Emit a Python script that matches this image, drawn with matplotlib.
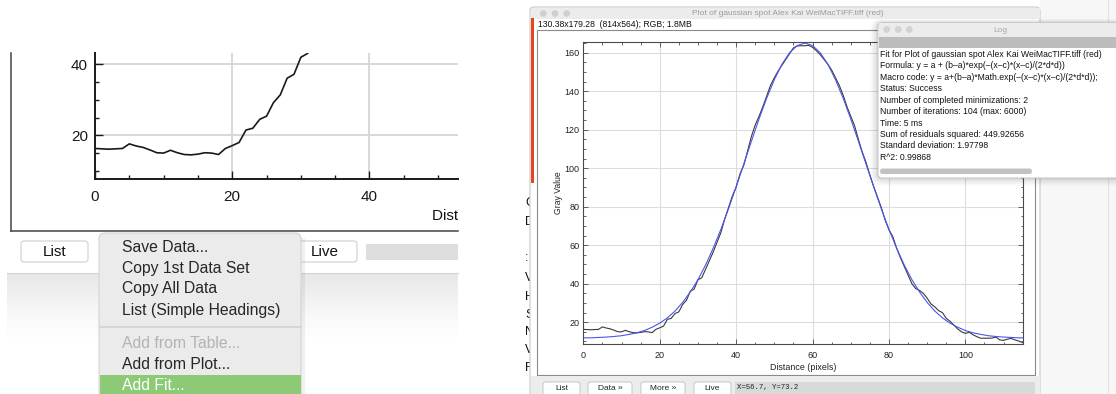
import numpy as np
import matplotlib.pyplot as plt
from matplotlib.patches import Rectangle, FancyBboxPatch, Circle
from matplotlib.ticker import MultipleLocator

W, H = 1116, 394
plt.rcParams['font.family'] = ['Liberation Sans', 'DejaVu Sans']

# line profile (gray value per pixel along the line)
distance = np.arange(116)
gray_value = [16.3, 16.2, 16.1, 16.2, 16.3, 17.6, 17.0, 16.6, 15.9, 15.1,
              15.0, 15.8, 15.1, 14.6, 14.5, 14.7, 15.1, 15.0, 14.6, 16.3,
              17.1, 18.0, 21.5, 22.0, 24.5, 25.4, 29.2, 31.4, 36.1, 37.2,
              42.0, 43.1, 47.5, 52.0, 56.5, 61.5, 66.5, 73.5, 79.5, 85.5,
              90.2, 97.0, 101.5, 109.0, 116.5, 122.5, 127.0, 132.0, 137.5, 143.0,
              147.0, 150.5, 153.5, 156.5, 159.5, 162.5, 163.5, 163.6, 163.6, 163.8,
              162.8, 161.0, 159.0, 156.5, 154.0, 151.0, 147.0, 143.0, 138.0, 132.0,
              127.0, 122.0, 115.0, 108.5, 103.0, 96.5, 90.5, 85.0, 79.5, 73.0,
              68.0, 64.5, 58.5, 53.5, 49.0, 44.5, 40.0, 37.5, 36.5, 35.0,
              32.5, 29.5, 28.0, 26.0, 25.0, 22.0, 20.5, 18.5, 16.5, 15.0,
              14.2, 14.8, 13.5, 12.5, 11.7, 11.7, 11.7, 11.8, 12.3, 10.8,
              10.6, 11.2, 11.6, 10.8, 10.2, 9.4]

# gaussian fit curve as drawn (every 2 px)
fit_distance = list(range(0, 116, 2)) + [115]
fit_value = [11.9, 11.9, 12.1, 12.3, 12.6, 13.0, 13.7, 14.5, 15.7, 17.4,
             19.5, 22.3, 25.8, 30.3, 35.7, 42.1, 49.7, 58.5, 68.2, 78.9,
             90.3, 102.1, 114.0, 125.6, 136.4, 146.0, 154.0, 160.0, 163.7, 165.0,
             163.7, 160.0, 154.0, 146.0, 136.4, 125.6, 114.0, 102.1, 90.3, 78.9,
             68.2, 58.5, 49.7, 42.1, 35.7, 30.3, 25.8, 22.3, 19.5, 17.4,
             15.7, 14.5, 13.7, 13.0, 12.6, 12.3, 12.1, 11.9, 11.9]

menu_items = ["Save Data...", "Copy 1st Data Set", "Copy All Data",
              "List (Simple Headings)", "Add from Table...", "Add from Plot...",
              "Add Fit..."]
log_lines = ["Fit for Plot of gaussian spot Alex Kai WeiMacTIFF.tiff (red)",
             "Formula: y = a + (b\u2013a)*exp(\u2013(x\u2013c)*(x\u2013c)/(2*d*d))",
             "Macro code: y = a+(b\u2013a)*Math.exp(\u2013(x\u2013c)*(x\u2013c)/(2*d*d));",
             "Status: Success",
             "Number of completed minimizations: 2",
             "Number of iterations: 104 (max: 6000)",
             "Time: 5 ms",
             "Sum of residuals squared: 449.92656",
             "Standard deviation: 1.97798",
             "R^2: 0.99868"]
plot_buttons = ["List", "Data \u00bb", "More \u00bb", "Live"]


def box(x0, y0, x1, y1):
    return [x0 / W, 1 - y1 / H, (x1 - x0) / W, (y1 - y0) / H]


def rbox(ax, x0, y0, x1, y1, r=3, **kw):
    p = FancyBboxPatch((x0, y0), x1 - x0, y1 - y0,
                       boxstyle=f"round,pad=0,rounding_size={r}", **kw)
    ax.add_patch(p)
    return p


def clipped_text(ax, x, y, s, x0, x1, **kw):
    t = ax.text(x, y, s, clip_on=True, **kw)
    t.set_clip_path(Rectangle((x0, 0), x1 - x0, H, transform=ax.transData))
    return t


fig = plt.figure(figsize=(W / 100, H / 100), dpi=100)
bg = fig.add_axes([0, 0, 1, 1], zorder=0)
top = fig.add_axes([0, 0, 1, 1], zorder=3)

# ---------- left screenshot (zoomed plot window + menu) ----------
shade = np.ones((60, 1, 4))
shade[..., :3] = 0.55
shade[:, 0, 3] = np.linspace(0.36, 0.0, 60) ** 1.5
bg.imshow(shade, extent=[7, 458, 347, 273], aspect='auto', interpolation='bilinear', zorder=1)
bg.plot([7, 458], [273, 273], color='#d4d4d4', lw=0.8, zorder=2)
bg.plot([11, 11], [53, 231], color='#444444', lw=1.1, zorder=2)
bg.plot([11, 458], [231, 231], color='#444444', lw=1.1, zorder=2)
rbox(bg, 21, 241, 88, 262, r=3, fc='white', ec='#cfcfcf', lw=0.8, zorder=2)
bg.text(55, 252, "List", fontsize=11, ha='center', va='center', color='#111111', zorder=3)
rbox(bg, 280, 241, 357, 262, r=3, fc='white', ec='#cfcfcf', lw=0.8, zorder=2)
bg.text(325, 252, "Live", fontsize=11, ha='center', va='center', color='#111111', zorder=3)
bg.add_patch(Rectangle((366, 244), 92, 16, fc='#dedede', ec='none', zorder=2))
clipped_text(bg, 432, 216, "Distance (pixels)", 0, 458, fontsize=11, ha='left',
             va='center', color='#111111', zorder=3)

ax1 = fig.add_axes(box(95, 53, 458, 179), zorder=1)
ax1.plot(distance, gray_value, color='#1a1a1a', lw=1.2)
ax1.set_xlim(0, 52.9)
ax1.set_ylim(7.7, 43.2)
ax1.xaxis.set_major_locator(MultipleLocator(20))
ax1.xaxis.set_minor_locator(MultipleLocator(5))
ax1.yaxis.set_major_locator(MultipleLocator(20))
ax1.yaxis.set_minor_locator(MultipleLocator(5))
ax1.grid(True, which='major', color='#d6d6d6', lw=1.3)
for s in ('top', 'right'):
    ax1.spines[s].set_visible(False)
for s in ('left', 'bottom'):
    ax1.spines[s].set_linewidth(1.4)
    ax1.spines[s].set_color('#1a1a1a')
ax1.tick_params(which='both', direction='in', color='#1a1a1a', width=1.0)
ax1.tick_params(which='major', length=5.5, labelsize=11, labelcolor='#1a1a1a')
ax1.tick_params(which='minor', length=3)
ax1.tick_params(axis='x', pad=8)
ax1.tick_params(axis='y', pad=5)

# menu
top.add_patch(Rectangle((103, 238), 202, 170, fc='#000000', alpha=0.06, ec='none', zorder=1))
rbox(top, 99, 233, 301, 420, r=6, fc='#ebebeb', ec='#d4d4d4', lw=0.8, zorder=2)
top.add_patch(Rectangle((99.5, 375), 201, 21, fc='#8dca75', ec='none', zorder=3))
top.plot([99.5, 300.5], [327, 327], color='#d2d2d2', lw=1.2, zorder=3)
menu_y = [247, 268, 289, 310, 344, 364.5, 385]
for label, y in zip(menu_items, menu_y):
    c = '#262626'
    if label.startswith("Add from Table"):
        c = '#b3b3b3'
    elif label == "Add Fit...":
        c = 'white'
    top.text(122, y, label, fontsize=11.3, ha='left', va='center', color=c, zorder=4)

# ---------- right screenshot (plot window + log) ----------
for ch, y in zip("CD:VHSNVF", [203, 222, 258, 278, 297, 315, 332, 350, 368]):
    clipped_text(bg, 525, y, ch, 519, 530, fontsize=9, ha='left', va='center',
                 color='#111111', zorder=1)

bg.add_patch(Rectangle((1040, 0), 76, H, fc='#f7f7f7', ec='none', zorder=1))
bg.plot([1108, 1108], [0, H], color='#e3e3e3', lw=0.8, zorder=1)
rbox(bg, 530, 7, 1040, 420, r=4, fc='white', ec='#c9c9c9', lw=0.8, zorder=1)
bg.add_patch(Rectangle((530.5, 7.5), 509, 11, fc='#ececec', ec='none', zorder=2))
for cx in (543.3, 555, 566.7):
    bg.add_patch(Circle((cx, 13.5), 3.3, fc='#cfcfcf', ec='none', zorder=3))
bg.text(788, 13, "Plot of gaussian spot Alex Kai WeiMacTIFF.tiff (red)", fontsize=6,
        ha='center', va='center', color='#9b9b9b', zorder=3)
bg.text(538, 24, "130.38x179.28  (814x564); RGB; 1.8MB", fontsize=6.2,
        ha='left', va='center', color='#111111', zorder=3)
bg.add_patch(Rectangle((530.5, 18), 3, 165, fc='#e6461e', ec='none', zorder=3))
bg.add_patch(Rectangle((537, 29.5), 498, 345.5, fc='white', ec='#8a8a8a', lw=0.8, zorder=2))
bg.add_patch(Rectangle((530.5, 376), 509, 20, fc='#ececec', ec='none', zorder=2))
btn_x = [(543, 580), (588, 632), (641, 685), (694, 731)]
for label, (x0, x1) in zip(plot_buttons, btn_x):
    rbox(bg, x0, 382, x1, 399, r=2.5, fc='white', ec='#c6c6c6', lw=0.7, zorder=3)
    bg.text((x0 + x1) / 2, 388, label, fontsize=6, ha='center', va='center', color='#222222', zorder=4)
bg.add_patch(Rectangle((735, 382), 300, 12, fc='#d9d9d9', ec='none', zorder=3))
bg.text(737, 388, "X=56.7, Y=73.2", fontsize=5.3, family='Liberation Mono',
        ha='left', va='center', color='#222222', zorder=4)

ax2 = fig.add_axes(box(583.3, 41.7, 1022.7, 344), zorder=1)
ax2.plot(distance, gray_value, color='#3a3a3a', lw=0.8)
ax2.plot(fit_distance, fit_value, color='#4b55f0', lw=0.8)
ax2.set_xlim(0, 115)
ax2.set_ylim(8.7, 165.7)
ax2.xaxis.set_major_locator(MultipleLocator(20))
ax2.xaxis.set_minor_locator(MultipleLocator(5))
ax2.yaxis.set_major_locator(MultipleLocator(20))
ax2.yaxis.set_minor_locator(MultipleLocator(5))
ax2.grid(True, which='major', color='#dcdcdc', lw=0.8)
for s in ax2.spines.values():
    s.set_linewidth(0.8)
    s.set_color('#4a4a4a')
ax2.tick_params(which='both', direction='in', top=True, right=True, color='#4a4a4a', width=0.6)
ax2.tick_params(which='major', length=3.5, labelsize=6.5, labelcolor='#222222')
ax2.tick_params(which='minor', length=1.8)
ax2.tick_params(axis='x', pad=5)
ax2.tick_params(axis='y', pad=2.5)
ax2.set_xlabel("Distance (pixels)", fontsize=6.4, color='#222222')
ax2.set_ylabel("Gray Value", fontsize=6.2, color='#222222')
ax2.xaxis.set_label_coords(0.5, -0.062)
ax2.yaxis.set_label_coords(-0.047, 0.5)

# log window
for i, a in enumerate([0.05, 0.04, 0.03, 0.02]):
    g = 2 + 2 * i
    rbox(top, 878 - g, 22.7 - g * 0.5, 1130, 178 + g, r=4 + g, fc='black', ec='none', alpha=a, zorder=1)
rbox(top, 878, 22.7, 1130, 178, r=4, fc='white', ec='#c4c4c4', lw=0.7, zorder=2)
top.add_patch(Rectangle((878.5, 23.2), 240, 13.5, fc='#ececec', ec='none', zorder=3))
for cx in (886.7, 898.3, 909.3):
    top.add_patch(Circle((cx, 29.5), 3.4, fc='#d2d2d2', ec='none', zorder=4))
top.text(1000, 30, "Log", fontsize=6, ha='center', va='center', color='#a6a6a6', zorder=4)
top.add_patch(Rectangle((878.5, 37.3), 240, 11, fc='#bcbcbc', ec='none', zorder=3))
for i, line in enumerate(log_lines):
    top.text(880, 54.3 + i * 11.45, line, fontsize=6.2, ha='left', va='center', color='#111111', zorder=4)
rbox(top, 880, 168.5, 1032, 174, r=2.7, fc='#c2c2c2', ec='none', zorder=4)

for a in (bg, top):
    a.set_xlim(0, W)
    a.set_ylim(H, 0)
    a.axis('off')

fig.savefig('out.png', dpi=100)
